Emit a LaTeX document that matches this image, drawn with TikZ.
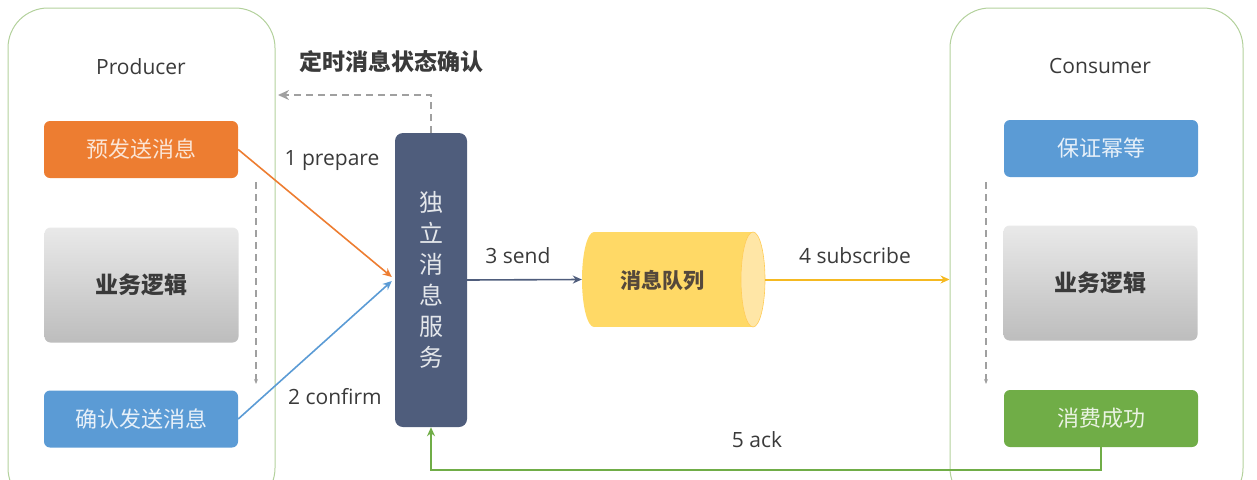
\documentclass[tikz,border=0pt]{standalone}
\usepackage{fontspec}
\setmainfont{Open Sans}
\newfontfamily\cjk{Noto Sans CJK SC}
\usetikzlibrary{arrows.meta}
\definecolor{frame}{HTML}{B3D19C}
\definecolor{orangeC}{HTML}{ED7D31}
\definecolor{blueC}{HTML}{5B9BD5}
\definecolor{greenC}{HTML}{70AD47}
\definecolor{svcC}{HTML}{4F5D7C}
\definecolor{grayT}{HTML}{E9E9E9}
\definecolor{grayB}{HTML}{BDBDBD}
\definecolor{yellowC}{HTML}{FFD966}
\definecolor{yellowE}{HTML}{FFE6A6}
\definecolor{subC}{HTML}{F5B921}
\definecolor{txt}{HTML}{3A3A3A}
\definecolor{dashC}{HTML}{A0A0A0}
\begin{document}
\begin{tikzpicture}[x=1pt,y=-1pt,
  container/.style={draw=frame,line width=1pt,rounded corners=40pt,minimum width=#1,minimum height=500pt,inner sep=0pt},
  box/.style={rounded corners=6pt,minimum width=194pt,minimum height=57pt,inner sep=0pt,font=\cjk\fontsize{22}{26}\selectfont},
  graybox/.style={box,top color=grayT,bottom color=grayB,minimum height=115pt,text=txt,font=\cjk\bfseries\fontsize{23}{26}\selectfont},
  lbl/.style={text=txt,font=\fontsize{21}{24}\selectfont,inner sep=0pt},
  tip/.style={-{Stealth[length=9pt,width=8pt]}},
  dsh/.style={draw=dashC,line width=1.3pt,dash pattern=on 7pt off 5pt}
]
\useasboundingbox (0,0) rectangle (1257,479);
\clip (0,0) rectangle (1257,479);
% containers
\node[container=267pt] (prod) at (141.5,258) {};
\node[container=293pt] (cons) at (1096.5,258) {};
\node[lbl] (prodT) at (141,67) {Producer};
\node[lbl] (consT) at (1100,66) {Consumer};
% producer boxes
\node[box,fill=orangeC,text=orangeC!20] (pre) at (141,149.5) {预发送消息};
\node[graybox] (biz1) at (141.5,285) {业务逻辑};
\node[box,fill=blueC,text=blueC!15] (conf) at (141,419) {确认发送消息};
% consumer boxes
\node[box,fill=blueC,text=blueC!15] (idem) at (1101,148.5) {保证幂等};
\node[graybox] (biz2) at (1100.5,283) {业务逻辑};
\node[box,fill=greenC,text=greenC!15] (ok) at (1101,418.5) {消费成功};
% service
\node[rounded corners=8pt,fill=svcC,minimum width=72pt,minimum height=294pt,inner sep=0pt,
      text=white!85!svcC,align=center,font=\cjk\fontsize{24}{31}\selectfont] (svc) at (431,280)
      {独\\立\\消\\息\\服\\务};
% queue (cylinder drawn directly)
\node[minimum width=183pt,minimum height=95pt,inner sep=0pt] (mq) at (673.5,279.5) {};
\fill[yellowC] (594,279.5) ellipse [x radius=12, y radius=47.5];
\fill[yellowC] (594,232) rectangle (753,327);
\fill[yellowE,draw=yellowC!85!orange,line width=0.6pt] (753,279.5) ellipse [x radius=12, y radius=47.5];
\node[text=txt!80!brown,font=\cjk\bfseries\fontsize{21}{24}\selectfont,inner sep=0pt] (mqT) at (662,281) {消息队列};
% dashed internal flows
\coordinate (pd1) at (256,182);
\coordinate (pd2) at (256,384);
\coordinate (cd1) at (986,182);
\coordinate (cd2) at (986,384);
\draw[dsh,-{Stealth[length=5pt,width=4pt]}] (pd1) -- (pd2);
\draw[dsh,-{Stealth[length=5pt,width=4pt]}] (cd1) -- (cd2);
% timed status check
\coordinate (tq) at (278,95);
\draw[dsh,line width=1.6pt,-{Stealth[length=11pt,width=10pt]}] (svc.north) |- (tq);
\node[text=txt,font=\cjk\bfseries\fontsize{23}{26}\selectfont,inner sep=0pt] (chk) at (391,62) {定时消息状态确认};
% arrows
\draw[orangeC,line width=1.6pt,tip] (pre.east) -- ([xshift=-3pt,yshift=3pt]svc.west);
\draw[blueC,line width=1.6pt,tip] (conf.east) -- ([xshift=-3pt,yshift=-1pt]svc.west);
\draw[svcC,line width=1.6pt,tip] (svc.east) -- (mq.west);
\draw[subC,line width=2pt,tip] (mq.east) -- (cons.west |- mq.east);
\draw[greenC,line width=1.6pt,tip] (ok.south) -- ++(0,23) -| (svc.south);
% labels
\node[lbl] (l1) at (332,161) {1 prepare};
\node[lbl] (l2) at (335,397) {2 confirm};
\node[lbl] (l3) at (518,256) {3 send};
\node[lbl] (l4) at (855,256) {4 subscribe};
\node[lbl] (l5) at (757,440) {5 ack};
\end{tikzpicture}
\end{document}
